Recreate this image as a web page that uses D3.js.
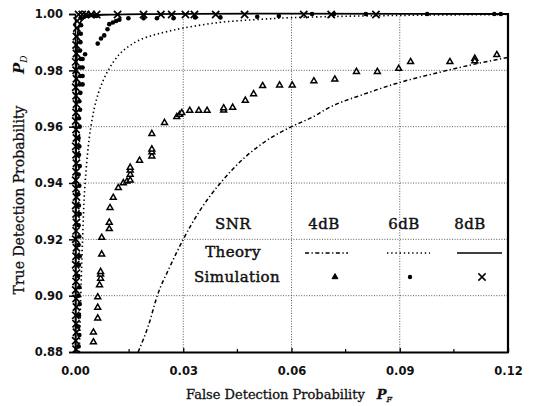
<!DOCTYPE html>
<html><head><meta charset="utf-8">
<script src="https://cdn.jsdelivr.net/npm/d3@7"></script>
<style>body{margin:0;background:#fff}</style>
</head><body>
<svg id="c" width="535" height="406"></svg>
<script>
const xTicks = [0, 0.03, 0.06, 0.09, 0.12];
const xMinor = [0.015, 0.045, 0.075, 0.105];
const yTicks = [0.88, 0.90, 0.92, 0.94, 0.96, 0.98, 1.00];
const snrLabels = ["4dB", "6dB", "8dB"];

const theory4 = [[0.0175,0.88],[0.0205,0.89],[0.0228,0.90],[0.0262,0.91],[0.0300,0.92],[0.0345,0.93],[0.0403,0.94],[0.0470,0.949],[0.0530,0.955],[0.0600,0.960],[0.0660,0.9635],[0.0700,0.9665],[0.0800,0.9715],[0.0900,0.9757],[0.1000,0.9790],[0.1100,0.9820],[0.1200,0.9846]];
const theory6 = [[0.0012,0.88],[0.0016,0.90],[0.0021,0.92],[0.0028,0.94],[0.0044,0.96],[0.0065,0.972],[0.0092,0.98],[0.0123,0.9857],[0.0150,0.9886],[0.0183,0.9910],[0.0220,0.9926],[0.0253,0.9937],[0.0300,0.9950],[0.0400,0.9970],[0.0500,0.9980],[0.0600,0.9987],[0.0750,0.9992],[0.0900,0.9995],[0.1050,0.9997],[0.1200,0.9998]];
const theory8 = [[0.0002,0.88],[0.0003,0.95],[0.0005,0.985],[0.0010,0.995],[0.0020,0.998],[0.0040,0.9993],[0.0100,0.9998],[0.1200,1.0]];

const sim4 = [[0.0051,0.8835],[0.0051,0.887],[0.0063,0.892],[0.0063,0.8958],[0.0063,0.8995],[0.0068,0.9038],[0.0071,0.9061],[0.0071,0.9076],[0.0071,0.9085],[0.0074,0.9147],[0.0074,0.9206],[0.0095,0.9237],[0.0095,0.926],[0.0097,0.9312],[0.0106,0.9348],[0.0120,0.9383],[0.0134,0.9400],[0.0144,0.9406],[0.0153,0.9410],[0.0153,0.9430],[0.0153,0.9445],[0.0153,0.9455],[0.0179,0.9480],[0.0213,0.9495],[0.0213,0.9510],[0.0213,0.9520],[0.0213,0.9575],[0.0248,0.9614],[0.0282,0.9635],[0.0290,0.9643],[0.0296,0.9649],[0.0318,0.9657],[0.0343,0.9657],[0.0366,0.9657],[0.0412,0.9658],[0.0412,0.9666],[0.0437,0.9668],[0.0472,0.9693],[0.0495,0.9716],[0.0520,0.9745],[0.0567,0.9747],[0.0602,0.9747],[0.0662,0.9762],[0.0720,0.9768],[0.0780,0.9795],[0.0838,0.9795],[0.0897,0.9806],[0.0930,0.9830],[0.1039,0.9830],[0.1108,0.9842],[0.1108,0.9833],[0.1169,0.9855]];

const sim6 = [[0.0010,0.8820],[0.0012,0.8860],[0.0009,0.8890],[0.0011,0.8930],[0.0013,0.8970],[0.0010,0.9000],[0.0012,0.9030],[0.0009,0.9070],[0.0011,0.9110],[0.0013,0.9140],[0.0010,0.9180],[0.0012,0.9210],[0.0010,0.9250],[0.0013,0.9290],[0.0011,0.9320],[0.0009,0.9360],[0.0012,0.9390],[0.0010,0.9430],[0.0013,0.9460],[0.0011,0.9500],[0.0012,0.9530],[0.0010,0.9560],[0.0013,0.9600],[0.0011,0.9630],[0.0014,0.9660],[0.0012,0.9690],[0.0015,0.9720],[0.0013,0.9750],[0.0021,0.9750],[0.0015,0.9780],[0.0021,0.9780],[0.0014,0.9810],[0.0021,0.9810],[0.0016,0.9840],[0.0021,0.9840],[0.0028,0.9857],[0.0014,0.9870],[0.0015,0.9900],[0.0016,0.9930],[0.0017,0.9960],[0.0018,0.9985],[0.0030,0.9995],[0.0040,0.9995],[0.0050,0.9995],[0.0060,0.9993],[0.0063,0.9895],[0.0072,0.9913],[0.0081,0.9924],[0.0090,0.9946],[0.0095,0.9964],[0.0105,0.9970],[0.0114,0.9975],[0.0123,0.9980],[0.0148,0.9985],[0.0190,0.9985],[0.0227,0.9985],[0.0273,0.9985],[0.0333,0.9988],[0.0403,0.9988],[0.0505,0.9990],[0.0565,0.9993],[0.0657,1.0],[0.0718,1.0],[0.0806,1.0],[0.0976,1.0],[0.1162,1.0],[0.1180,1.0]];

const sim8 = [[0.0003,0.8810],[0.0002,0.8840],[0.0004,0.8870],[0.0003,0.8900],[0.0002,0.8930],[0.0004,0.8960],[0.0003,0.8990],[0.0002,0.9020],[0.0003,0.9050],[0.0004,0.9080],[0.0002,0.9110],[0.0003,0.9140],[0.0004,0.9170],[0.0002,0.9200],[0.0003,0.9230],[0.0004,0.9260],[0.0003,0.9290],[0.0002,0.9320],[0.0004,0.9350],[0.0003,0.9380],[0.0002,0.9410],[0.0003,0.9440],[0.0004,0.9470],[0.0003,0.9500],[0.0002,0.9530],[0.0004,0.9560],[0.0003,0.9590],[0.0002,0.9620],[0.0003,0.9650],[0.0004,0.9680],[0.0003,0.9710],[0.0002,0.9740],[0.0004,0.9770],[0.0003,0.9800],[0.0002,0.9830],[0.0004,0.9860],[0.0003,0.9890],[0.0004,0.9920],[0.0005,0.9950],[0.0006,0.9975],[0.0010,0.9998],[0.0020,0.9998],[0.0030,0.9998],[0.0045,0.9998],[0.0060,0.9998],[0.0118,0.9998],[0.0190,0.9998],[0.0238,0.9998],[0.0268,0.9998],[0.0306,0.9998],[0.0331,0.9998],[0.0390,0.9998],[0.0470,0.9998],[0.0634,0.9998],[0.0710,0.9998],[0.0834,0.9998]];

const svg = d3.select("#c");
const x = d3.scaleLinear().domain([0, 0.12]).range([75, 508]);
const y = d3.scaleLinear().domain([0.88, 1.0]).range([352, 14]);
const serif = "'DejaVu Serif', serif";
const sans = "'DejaVu Sans', sans-serif";

// gridlines
const grid = svg.append("g").attr("stroke", "#333").attr("stroke-width", 0.8).attr("stroke-dasharray", "1,1.6");
grid.selectAll("line.v").data(xTicks.slice(1, -1)).join("line")
  .attr("x1", d => x(d)).attr("x2", d => x(d)).attr("y1", y(1.0)).attr("y2", y(0.88));
grid.selectAll("line.h").data(yTicks.slice(1, -1)).join("line")
  .attr("x1", x(0)).attr("x2", x(0.12)).attr("y1", d => y(d)).attr("y2", d => y(d));

// axes
const xAxis = svg.append("g").attr("transform", `translate(0,${y(0.88)})`)
  .call(d3.axisBottom(x).tickValues(xTicks).tickFormat(d3.format(".2f")).tickSizeInner(-4).tickSizeOuter(0).tickPadding(15));
xAxis.select(".domain").attr("stroke-width", 2);
xAxis.selectAll("line").attr("stroke-width", 1.3);
xAxis.selectAll("text").attr("font-family", sans).attr("font-weight", "bold").attr("font-size", 11.5).attr("fill", "#111");
svg.append("g").selectAll("line").data(xMinor).join("line")
  .attr("x1", d => x(d)).attr("x2", d => x(d)).attr("y1", y(0.88)).attr("y2", y(0.88) - 3)
  .attr("stroke", "#000").attr("stroke-width", 1.2);

const yAxis = svg.append("g").attr("transform", `translate(${x(0)},0)`)
  .call(d3.axisLeft(y).tickValues(yTicks).tickFormat(d3.format(".2f")).tickSize(6).tickPadding(6));
yAxis.select(".domain").attr("stroke-width", 1.5);
yAxis.selectAll("line").attr("stroke-width", 1.5);
yAxis.selectAll("text").attr("font-family", sans).attr("font-weight", "bold").attr("font-size", 11.5).attr("fill", "#111");

// right frame
svg.append("line").attr("x1", x(0.12)).attr("x2", x(0.12)).attr("y1", y(1.0) - 1).attr("y2", y(0.88) + 1)
  .attr("stroke", "#000").attr("stroke-width", 2.2);

// theory curves
const line = d3.line().x(d => x(d[0])).y(d => y(d[1])).curve(d3.curveMonotoneX);
svg.append("path").datum(theory4).attr("d", line).attr("fill", "none").attr("stroke", "#000")
  .attr("stroke-width", 1.5).attr("stroke-dasharray", "4,2.5,1.3,2.5");
svg.append("path").datum(theory6).attr("d", d3.line().x(d => x(d[0])).y(d => y(d[1])).curve(d3.curveCatmullRom))
  .attr("fill", "none").attr("stroke", "#000").attr("stroke-width", 1.6).attr("stroke-dasharray", "1.4,2.8");
svg.append("path").datum(theory8).attr("d", d3.line().x(d => x(d[0])).y(d => y(d[1])).curve(d3.curveCatmullRom))
  .attr("fill", "none").attr("stroke", "#000").attr("stroke-width", 1.8);

// markers
const tri = d3.symbol().type(d3.symbolTriangle).size(15);
svg.append("g").selectAll("path").data(sim4).join("path")
  .attr("transform", d => `translate(${x(d[0])},${y(d[1])})`).attr("d", tri)
  .attr("fill", "#fff").attr("stroke", "#000").attr("stroke-width", 1.5);
svg.append("g").selectAll("circle").data(sim6).join("circle")
  .attr("cx", d => x(d[0])).attr("cy", d => y(d[1])).attr("r", 2.3).attr("fill", "#000");
const crossType = d3.symbolX || d3.symbolTimes;
const cross = d3.symbol().type(crossType).size(36);
svg.append("g").selectAll("path").data(sim8).join("path")
  .attr("transform", d => `translate(${x(d[0])},${y(d[1])})`).attr("d", cross)
  .attr("fill", "none").attr("stroke", "#000").attr("stroke-width", 1.7);

// legend table
const lg = svg.append("g").attr("font-family", serif).attr("font-size", 15).attr("fill", "#111")
  .attr("stroke", "#111").attr("stroke-width", 0.45).attr("letter-spacing", 0.4);
const colX = [324, 404, 470];
lg.append("text").attr("x", 233).attr("y", 229).attr("text-anchor", "middle").text("SNR");
lg.append("text").attr("x", 233).attr("y", 257).attr("text-anchor", "middle").text("Theory");
lg.append("text").attr("x", 237).attr("y", 282).attr("text-anchor", "middle").text("Simulation");
lg.selectAll("text.snr").data(snrLabels).join("text").attr("class", "snr")
  .attr("x", (d, i) => colX[i]).attr("y", 229).attr("text-anchor", "middle").text(d => d);
const dashes = ["4,2.5,1.3,2.5", "1.4,2.8", null];
svg.append("g").selectAll("line").data(dashes).join("line")
  .attr("x1", (d, i) => [305, 387, 457][i]).attr("x2", (d, i) => [348, 430, 502][i])
  .attr("y1", 253).attr("y2", 253).attr("stroke", "#000").attr("stroke-width", 1.6)
  .attr("stroke-dasharray", d => d);
svg.append("path").attr("transform", "translate(335,277)").attr("d", tri).attr("fill", "#000").attr("stroke", "#000");
svg.append("circle").attr("cx", 410).attr("cy", 277).attr("r", 2.2).attr("fill", "#000");
svg.append("path").attr("transform", "translate(482,277)").attr("d", cross).attr("fill", "none").attr("stroke", "#000").attr("stroke-width", 1.5);

// axis titles
const xl = svg.append("text").attr("x", 186).attr("y", 399).attr("font-family", serif).attr("font-size", 13)
  .attr("fill", "#111").attr("stroke", "#111").attr("stroke-width", 0.3);
xl.append("tspan").text("False Detection Probability");
xl.append("tspan").attr("dx", 12).attr("font-style", "italic").attr("font-weight", "bold").text("P");
xl.append("tspan").attr("font-size", 8).attr("font-style", "italic").attr("dy", 3).text("F");

svg.append("text").attr("transform", "translate(24,200) rotate(-90)").attr("text-anchor", "middle")
  .attr("font-family", serif).attr("font-size", 14).attr("fill", "#111").attr("stroke", "#111").attr("stroke-width", 0.3)
  .text("True Detection Probability");
const pd = svg.append("text").attr("transform", "translate(24,74) rotate(-90)")
  .attr("font-family", serif).attr("font-size", 15).attr("fill", "#111");
pd.append("tspan").attr("font-style", "italic").attr("font-weight", "bold").text("P");
pd.append("tspan").attr("font-size", 9).attr("font-style", "italic").attr("dy", 3).text("D");
</script>
</body></html>
